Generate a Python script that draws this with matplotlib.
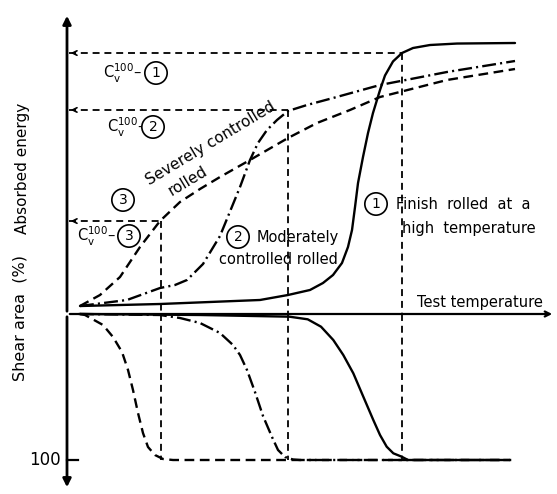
import matplotlib
matplotlib.use("Agg")
import matplotlib.pyplot as plt

plt.rcParams['font.family'] = ['DejaVu Sans']
plt.rcParams['lines.scale_dashes'] = False

# ---- data (temperature index 0..100, absorbed energy %, shear area %) ----
# (1) finish rolled at a high temperature
t_e1 = [2.90, 20.76, 43.08, 49.33, 54.24, 57.14, 59.38, 61.38, 62.72, 63.62, 64.29, 64.96,
        66.07, 67.19, 68.30, 69.87, 70.98, 72.77, 74.78, 77.23, 81.03, 87.05, 100.0]
e1 = [2.95, 3.69, 5.17, 7.01, 8.86, 11.44, 14.39, 18.82, 24.72, 31.00, 39.48, 48.34,
      57.93, 66.79, 74.17, 82.66, 88.00, 93.20, 96.31, 98.15, 99.26, 99.80, 100.0]

# (2) moderately controlled rolled
t_e2 = [2.90, 13.39, 20.76, 24.11, 26.79, 30.36, 34.15, 38.62, 40.85, 42.63, 44.64, 46.88,
        49.33, 53.57, 59.38, 69.87, 84.82, 100.0]
e2 = [2.95, 5.17, 9.59, 10.70, 12.55, 18.45, 28.78, 46.86, 56.83, 63.10, 67.90, 71.59,
      74.91, 77.12, 79.70, 84.50, 89.30, 93.36]

# (3) severely controlled rolled
t_e3 = [2.90, 7.37, 11.83, 16.29, 20.76, 25.22, 29.69, 34.15, 40.85, 49.33, 55.80, 63.17,
        69.87, 84.82, 100.0]
e3 = [2.95, 7.01, 13.65, 24.72, 34.32, 41.33, 46.13, 50.55, 56.83, 64.94, 70.48, 75.28,
      80.07, 86.35, 90.41]

# shear area curves
t_s1 = [2.90, 29.69, 49.62, 53.73, 56.70, 59.44, 61.67, 63.91, 66.14, 68.37, 69.87, 71.36,
        72.84, 74.71, 76.12, 98.9]
s1 = [0.0, 0.68, 1.83, 3.63, 8.70, 17.81, 28.08, 40.62, 56.64, 72.60, 82.88, 90.89,
      95.41, 97.74, 100.0, 100.0]

t_s2 = [2.90, 20.76, 25.22, 29.69, 34.15, 37.05, 38.62, 40.18, 41.96, 43.75, 45.76, 47.10,
        48.66, 50.45, 52.01, 98.9]
s2 = [0.0, 0.68, 2.74, 6.16, 13.01, 21.23, 28.08, 38.36, 53.42, 69.86, 84.25, 93.15,
      97.95, 99.66, 100.0, 100.0]

t_s3 = [2.90, 4.02, 8.04, 10.27, 12.28, 13.62, 14.73, 15.85, 16.96, 18.08, 19.64, 21.43,
        23.66, 98.9]
s3 = [0.0, 0.68, 7.53, 15.75, 26.03, 38.36, 52.05, 67.81, 81.51, 91.10, 96.58, 99.32,
      100.0, 100.0]

# C_v^100 transition points (temperature, energy) for curves 1, 2, 3
t100 = [74.8, 49.3, 21.0]
cv100 = [96.3, 75.3, 34.3]
cv_labels = ['1', '2', '3']

W, H = 557, 494
fig = plt.figure(figsize=(W / 100, H / 100), dpi=100)
fig.patch.set_facecolor('white')

px_t = 4.48   # pixels per temperature unit
px_e = 2.71   # pixels per energy unit
px_s = 1.46   # pixels per shear unit

ax_e = fig.add_axes([67 / W, (H - 314) / H, (W - 67) / W, (314 - 13) / H])
ax_s = fig.add_axes([67 / W, (H - 490) / H, (W - 67) / W, (490 - 314) / H])
ax_e.set_xlim(0, (W - 67) / px_t)
ax_e.set_ylim(0, (314 - 13) / px_e)
ax_s.set_xlim(0, (W - 67) / px_t)
ax_s.set_ylim((490 - 314) / px_s, 0)
for a in (ax_e, ax_s):
    a.set_axis_off()

k = 'black'
lw = 1.7
dash3 = (0, (7, 4))
dash2 = (0, (10, 3, 1.5, 3))
dref = (0, (5, 3.5))

# energy curves
ax_e.plot(t_e1, e1, color=k, lw=lw, solid_joinstyle='round', solid_capstyle='round', clip_on=False)
ax_e.plot(t_e2, e2, color=k, lw=lw, ls=dash2, clip_on=False)
ax_e.plot(t_e3, e3, color=k, lw=lw, ls=dash3, clip_on=False)

# shear curves
ax_s.plot(t_s3, s3, color=k, lw=lw, ls=dash3, clip_on=False)
ax_s.plot(t_s2, s2, color=k, lw=lw, ls=dash2, clip_on=False)
ax_s.plot(t_s1, s1, color=k, lw=lw, solid_joinstyle='round', clip_on=False)

# axes with arrows
ax_e.annotate('', xy=(0, (314 - 13) / px_e), xytext=(0, 0),
              arrowprops=dict(arrowstyle='-|>', color=k, lw=2, mutation_scale=12),
              annotation_clip=False)
ax_s.annotate('', xy=(0, (490 - 314) / px_s), xytext=(0, 0),
              arrowprops=dict(arrowstyle='-|>', color=k, lw=2, mutation_scale=12),
              annotation_clip=False)
ax_e.annotate('', xy=((555 - 67) / px_t, 0), xytext=(0, 0),
              arrowprops=dict(arrowstyle='->', color=k, lw=1.6, mutation_scale=9),
              annotation_clip=False)

# 100 tick
ax_s.plot([0, 2.5], [100, 100], color=k, lw=1.6, clip_on=False)
ax_s.text(-1.3, 100, '100', ha='right', va='center', fontsize=12)

# reference lines
for tt, ee in zip(t100, cv100):
    ax_e.plot([0.4, tt], [ee, ee], color=k, lw=1.3, ls=dref, clip_on=False)
    ax_e.annotate('', xy=(0.2, ee), xytext=(2.5, ee),
                  arrowprops=dict(arrowstyle='->', color=k, lw=1.2, mutation_scale=8),
                  annotation_clip=False)
    ax_e.plot([tt, tt], [ee, 0], color=k, lw=1.3, ls=dref, clip_on=False)
    ax_s.plot([tt, tt], [0, 100], color=k, lw=1.3, ls=dref, clip_on=False)

# Cv labels: (text left px, circle centre px, y px)
cv_text_px = [103, 107, 77]
cv_circ_px = [156, 153, 129]
cv_y_px = [73, 127, 236]
circ = dict(boxstyle='circle,pad=0.3', fc='white', ec=k, lw=1.2)
for xl, xc, yp, lab in zip(cv_text_px, cv_circ_px, cv_y_px, cv_labels):
    y = (314 - yp) / px_e
    ax_e.text((xl - 67) / px_t, y, r'C$_\mathregular{v}^\mathregular{100}$–', ha='left',
              va='center', fontsize=10.5, clip_on=False)
    ax_e.text((xc - 67) / px_t, y, lab, ha='center', va='center', fontsize=10,
              bbox=circ, clip_on=False)

# axis labels
ax_e.text((23 - 67) / px_t, (314 - 168) / px_e, 'Absorbed energy', rotation=90,
          ha='center', va='center', fontsize=11, clip_on=False)
ax_e.text((20 - 67) / px_t, (314 - 318) / px_e, 'Shear area  (%)', rotation=90,
          ha='center', va='center', fontsize=11.5, clip_on=False)
ax_e.text((480 - 67) / px_t, (314 - 303) / px_e, 'Test temperature',
          ha='center', va='center', fontsize=10.5, clip_on=False)

# curve annotations
ax_e.text((376 - 67) / px_t, (314 - 204) / px_e, '1', ha='center', va='center',
          fontsize=10, bbox=circ)
ax_e.text((396 - 67) / px_t, (314 - 204) / px_e, 'Finish  rolled  at  a', ha='left',
          va='center', fontsize=10.5)
ax_e.text((402 - 67) / px_t, (314 - 228) / px_e, 'high  temperature', ha='left', va='center',
          fontsize=10.5)

ax_e.text((238 - 67) / px_t, (314 - 237) / px_e, '2', ha='center', va='center',
          fontsize=10, bbox=circ)
ax_e.text((257 - 67) / px_t, (314 - 237) / px_e, 'Moderately', ha='left', va='center',
          fontsize=10.5)
ax_e.text((278 - 67) / px_t, (314 - 260) / px_e, 'controlled rolled', ha='center', va='center',
          fontsize=10.5)

ax_e.text((123 - 67) / px_t, (314 - 200) / px_e, '3', ha='center', va='center',
          fontsize=10, bbox=circ)
ax_e.text((211 - 67) / px_t, (314 - 143) / px_e, 'Severely controlled', rotation=31,
          rotation_mode='anchor', ha='center', va='center', fontsize=11)
ax_e.text((188 - 67) / px_t, (314 - 181) / px_e, 'rolled', rotation=31,
          rotation_mode='anchor', ha='center', va='center', fontsize=11)

fig.savefig('out.png', dpi=100)
